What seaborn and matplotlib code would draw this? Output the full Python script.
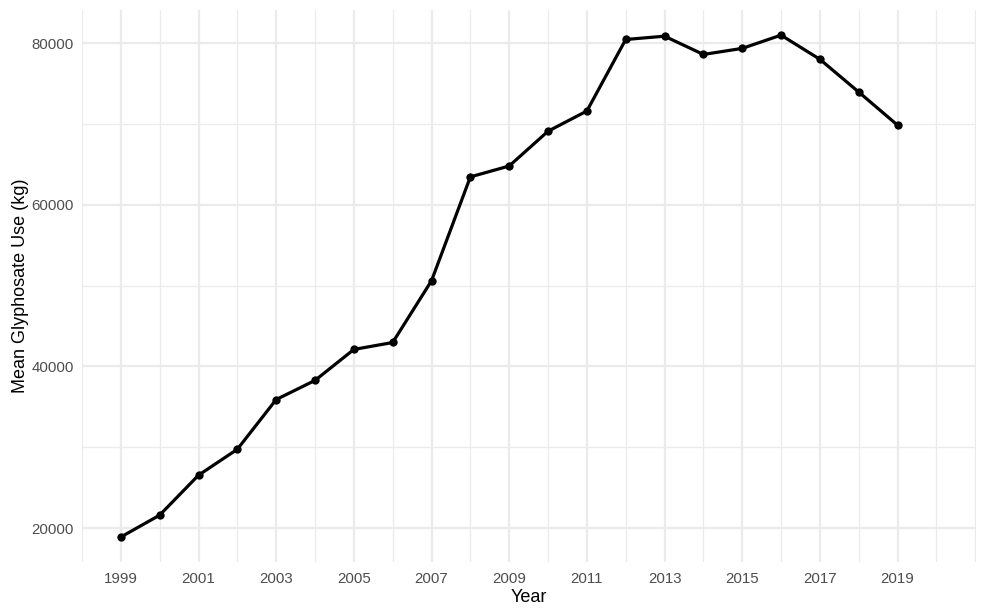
import matplotlib
matplotlib.use('Agg')
import matplotlib.pyplot as plt
import numpy as np
import pandas as pd
import seaborn as sns

# Mean glyphosate use per year
years = [1999, 2000, 2001, 2002, 2003, 2004, 2005, 2006, 2007, 2008,
         2009, 2010, 2011, 2012, 2013, 2014, 2015, 2016, 2017, 2018, 2019]
mean_use = [18890, 21600, 26540, 29750, 35900, 38270, 42100, 42960, 50600, 63450,
            64800, 69100, 71600, 80450, 80860, 78600, 79350, 80990, 78000, 73950, 69850]

df = pd.DataFrame({'Year': years, 'Mean Glyphosate Use (kg)': mean_use})

sns.set_style('white')
plt.rcParams['font.family'] = ['Liberation Sans', 'DejaVu Sans']

fig = plt.figure(figsize=(9.86, 6.16), dpi=100)
ax = fig.add_axes([82 / 986, 1 - 562 / 616, (976 - 82) / 986, (562 - 10) / 616])

grid = '#ebebeb'
ax.set_xticks(np.arange(1999, 2020, 2))
ax.set_xticks(np.arange(1998, 2022, 1), minor=True)
ax.set_yticks([20000, 40000, 60000, 80000])
ax.set_yticks([30000, 50000, 70000], minor=True)
ax.grid(which='major', color=grid, linewidth=1.6)
ax.grid(which='minor', color=grid, linewidth=0.9)
ax.set_axisbelow(True)

sns.lineplot(data=df, x='Year', y='Mean Glyphosate Use (kg)', ax=ax,
             color='black', linewidth=2.3, marker='o', markersize=6,
             markeredgewidth=0)

ax.set_xlim(1998, 2021.02)
ax.set_ylim(15800, 84100)

for s in ax.spines.values():
    s.set_visible(False)
ax.tick_params(which='both', length=0, labelsize=10.8, labelcolor='#4d4d4d')
ax.tick_params(axis='x', pad=7)
ax.tick_params(axis='y', pad=6)
ax.set_xlabel('Year', fontsize=13, color='black', labelpad=2)
ax.set_ylabel('Mean Glyphosate Use (kg)', fontsize=13, color='black', labelpad=2)

fig.savefig('out.png', dpi=100)
